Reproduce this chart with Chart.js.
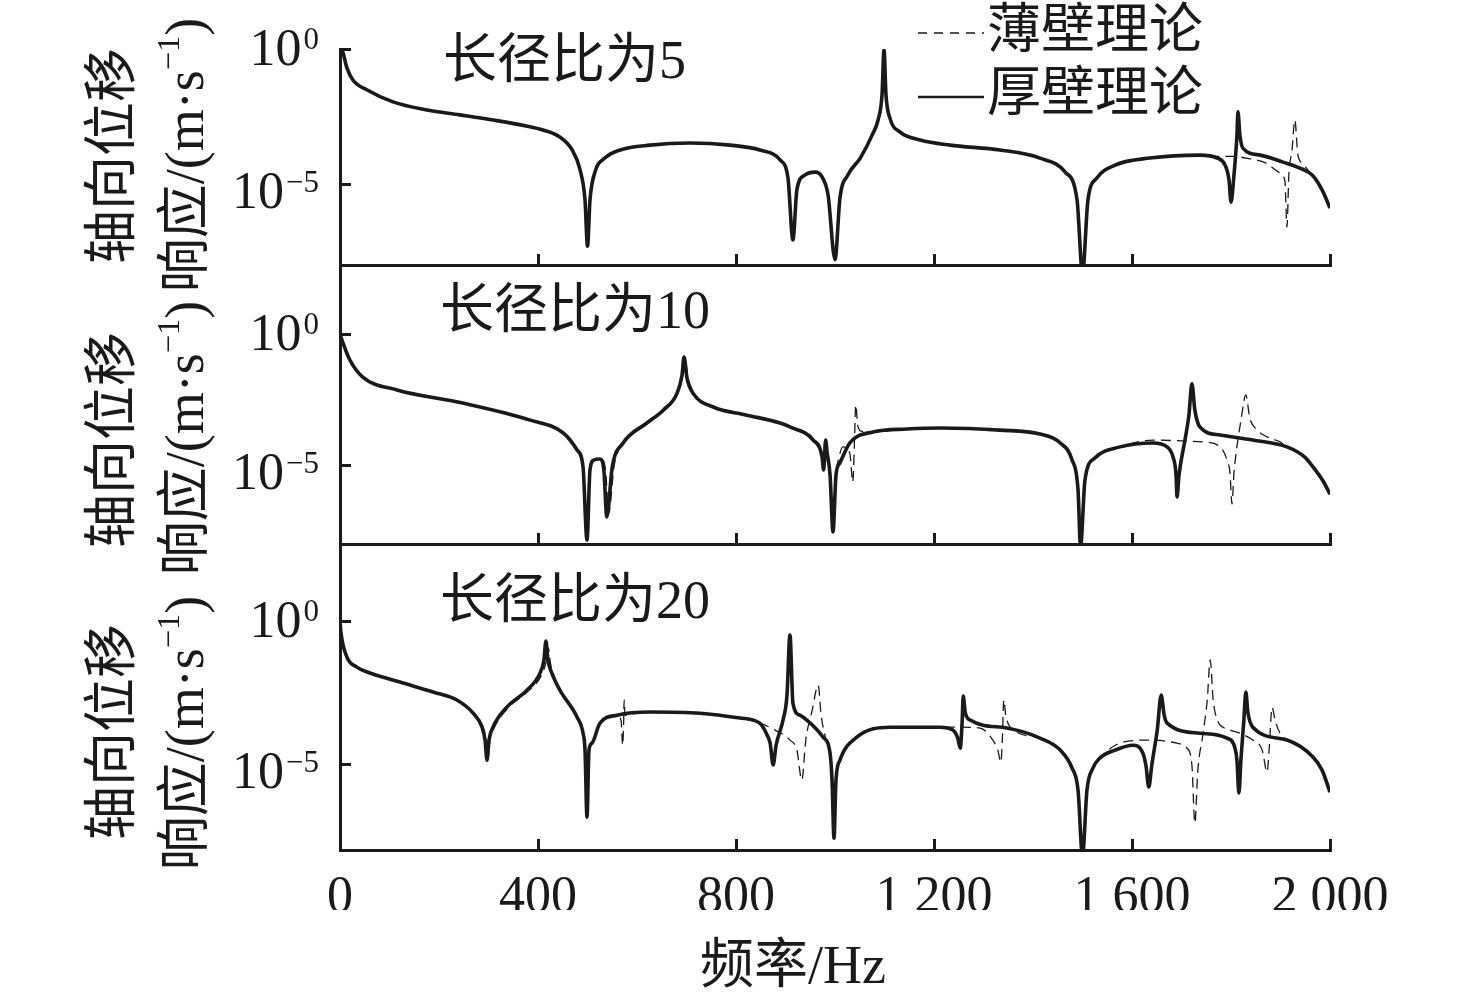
<!DOCTYPE html>
<html>
<head>
<meta charset="utf-8">
<script src="https://cdn.jsdelivr.net/npm/chart.js@4.4.1/dist/chart.umd.min.js"></script>
<style>
  html,body{margin:0;padding:0;background:#fff;}
  #wrap{position:relative;width:1476px;height:1003px;overflow:hidden;background:#fff;}
  #wrap canvas{position:absolute;left:0;top:0;}
  .t{position:absolute;font-family:"Liberation Serif","Noto Sans CJK SC",serif;color:#1a1a1a;white-space:nowrap;line-height:1;font-size:54px;}
  .rot{transform:translate(-50%,-50%) rotate(-90deg);}
  .t sup{font-size:0.6em;line-height:0;vertical-align:0.75em;}
</style>
</head>
<body>
<div id="wrap">
  <svg id="leg" width="1476" height="1003" style="position:absolute;left:0;top:0;z-index:5">
    <line x1="918" y1="33" x2="984" y2="33" stroke="#1a1a1a" stroke-width="1.5" stroke-dasharray="9 7"></line>
    <line x1="918" y1="97" x2="984" y2="97" stroke="#1a1a1a" stroke-width="2.6"></line>
  </svg>
  <div class="t" style="left:987px;top:3px;">薄壁理论</div>
  <div class="t" style="left:987px;top:66px;">厚壁理论</div>

  <div class="t" style="left:443px;top:33px;">长径比为5</div>
  <div class="t" style="left:440px;top:283px;">长径比为10</div>
  <div class="t" style="left:440px;top:573px;">长径比为20</div>

  <div class="t rot" style="left:112px;top:156px;">轴向位移</div>
  <div class="t rot" style="left:185px;top:155px;">响应/(m·s<sup>−1</sup>)</div>
  <div class="t rot" style="left:112px;top:440px;">轴向位移</div>
  <div class="t rot" style="left:185px;top:438px;">响应/(m·s<sup>−1</sup>)</div>
  <div class="t rot" style="left:112px;top:732px;">轴向位移</div>
  <div class="t rot" style="left:185px;top:733px;">响应/(m·s<sup>−1</sup>)</div>

  <div class="t" style="left:700px;top:938px;">频率/Hz</div>
</div>
<script>
// ---- data: [frequency Hz, log10(response)] ----
const xTicks = [0, 400, 800, 1200, 1600, 2000];
const yTickExps = [0, -5];

const p5Thick = [[0,0],[4,-0.04],[14,-0.70],[26,-1.15],[55,-1.52],[107,-1.96],[176,-2.26],[242,-2.44],[309,-2.63],[376,-2.85],[410,-3.0],[444,-3.26],[469,-3.74],[485,-4.48],[495,-5.6],[500,-7.3],[505,-5.6],[515,-4.56],[535,-4.04],[566,-3.74],[626,-3.56],[707,-3.48],[788,-3.56],[848,-3.74],[889,-4.11],[905,-4.78],[915,-7.07],[923,-5.22],[939,-4.67],[960,-4.56],[974,-4.74],[986,-5.41],[1000,-7.8],[1010,-5.52],[1026,-4.67],[1051,-4.04],[1075,-3.19],[1087,-2.63],[1095,-1.70],[1099,-0.04],[1103,-1.70],[1111,-2.56],[1131,-3.07],[1172,-3.37],[1232,-3.56],[1333,-3.74],[1414,-4.04],[1465,-4.56],[1489,-5.59],[1500,-8.3],[1511,-5.59],[1529,-4.78],[1566,-4.30],[1636,-4.04],[1737,-3.93],[1772,-4.04],[1788,-4.30],[1796,-4.85],[1800,-5.67],[1806,-4.67],[1812,-3.19],[1814,-2.33],[1818,-3.19],[1824,-3.67],[1859,-3.93],[1905,-4.19],[1939,-4.41],[1964,-4.67],[1984,-5.22],[2000,-5.89]];
const p5Thin = [[0,0],[4,-0.04],[14,-0.70],[26,-1.15],[55,-1.52],[107,-1.96],[176,-2.26],[242,-2.44],[309,-2.63],[376,-2.85],[410,-3.0],[444,-3.26],[469,-3.74],[485,-4.48],[495,-5.6],[500,-7.3],[505,-5.6],[515,-4.56],[535,-4.04],[566,-3.74],[626,-3.56],[707,-3.48],[788,-3.56],[848,-3.74],[889,-4.11],[905,-4.78],[915,-7.07],[923,-5.22],[939,-4.67],[960,-4.56],[974,-4.74],[986,-5.41],[1000,-7.8],[1010,-5.52],[1026,-4.67],[1051,-4.04],[1075,-3.19],[1087,-2.63],[1095,-1.70],[1099,-0.04],[1103,-1.70],[1111,-2.56],[1131,-3.07],[1172,-3.37],[1232,-3.56],[1333,-3.74],[1414,-4.04],[1465,-4.56],[1489,-5.59],[1500,-8.3],[1511,-5.59],[1529,-4.78],[1566,-4.30],[1636,-4.04],[1737,-3.93],[1772,-3.98],[1804,-3.98],[1838,-4.07],[1870,-4.22],[1899,-4.59],[1909,-4.9],[1913,-6.6],[1917,-4.6],[1923,-3.8],[1929,-2.63],[1935,-3.9],[1945,-4.25],[1964,-4.67],[1984,-5.22],[2000,-5.89]];

const p10Thick = [[0,0],[4,-0.23],[20,-0.99],[46,-1.64],[115,-2.13],[248,-2.63],[384,-3.28],[451,-3.77],[479,-4.42],[491,-5.07],[499,-7.85],[505,-5.18],[513,-4.80],[525,-4.76],[533,-5.18],[539,-6.97],[550,-5.07],[572,-4.15],[620,-3.39],[653,-2.90],[681,-2.25],[691,-1.56],[695,-0.88],[701,-1.68],[713,-2.25],[754,-2.78],[822,-3.09],[889,-3.39],[909,-3.54],[956,-4.04],[974,-4.69],[977,-5.18],[981,-4.04],[984,-4.50],[990,-5.37],[996,-7.54],[1002,-5.37],[1010,-4.91],[1030,-4.15],[1077,-3.73],[1145,-3.62],[1212,-3.58],[1333,-3.66],[1414,-3.81],[1455,-4.15],[1479,-4.80],[1491,-5.94],[1496,-8.1],[1505,-5.56],[1525,-4.72],[1576,-4.30],[1642,-4.15],[1671,-4.30],[1683,-4.69],[1689,-5.37],[1691,-6.21],[1695,-5.37],[1707,-4.04],[1715,-3.09],[1721,-1.90],[1727,-2.90],[1737,-3.54],[1778,-3.85],[1844,-4.04],[1913,-4.30],[1949,-4.69],[1966,-5.07],[1986,-5.60],[2000,-6.10]];
const p10Thin = [[0,0],[4,-0.23],[20,-0.99],[46,-1.64],[115,-2.13],[248,-2.63],[384,-3.28],[451,-3.77],[479,-4.42],[491,-5.07],[499,-7.85],[505,-5.18],[514,-4.78],[527,-4.76],[536,-5.1],[543,-6.8],[554,-5.0],[575,-4.12],[622,-3.37],[655,-2.88],[683,-2.22],[693,-1.5],[697,-0.95],[703,-1.65],[715,-2.25],[754,-2.78],[822,-3.09],[889,-3.39],[909,-3.54],[956,-4.04],[980,-4.8],[990,-5.37],[996,-7.54],[1002,-5.37],[1008,-4.7],[1016,-4.30],[1030,-4.55],[1036,-5.64],[1039,-4.3],[1042,-2.70],[1046,-3.5],[1053,-3.70],[1077,-3.73],[1145,-3.62],[1212,-3.58],[1333,-3.66],[1414,-3.81],[1455,-4.15],[1479,-4.80],[1491,-5.94],[1496,-8.1],[1505,-5.56],[1525,-4.72],[1576,-4.30],[1642,-4.04],[1711,-4.08],[1743,-4.11],[1778,-4.30],[1792,-4.80],[1798,-5.3],[1802,-6.48],[1806,-5.3],[1812,-4.3],[1820,-3.3],[1830,-2.32],[1838,-3.2],[1853,-3.66],[1873,-3.92],[1899,-4.11],[1913,-4.30],[1949,-4.69],[1966,-5.07],[1986,-5.60],[2000,-6.10]];

const p20Thick = [[0,0],[2,-0.42],[14,-1.26],[34,-1.61],[55,-1.78],[121,-2.13],[188,-2.48],[236,-2.76],[269,-3.22],[287,-3.71],[293,-4.16],[297,-4.86],[301,-4.16],[309,-3.71],[337,-3.01],[378,-2.41],[404,-1.82],[412,-1.36],[416,-0.70],[420,-1.36],[428,-1.82],[444,-2.41],[479,-3.36],[491,-3.92],[495,-4.51],[499,-6.85],[503,-4.51],[509,-4.27],[525,-3.57],[560,-3.29],[626,-3.18],[727,-3.22],[808,-3.39],[848,-3.57],[863,-3.99],[869,-4.27],[875,-5.03],[881,-4.34],[895,-3.46],[903,-2.59],[909,-0.49],[915,-2.87],[929,-3.29],[943,-3.46],[976,-4.06],[990,-4.62],[994,-5.56],[998,-7.59],[1002,-5.56],[1010,-4.86],[1044,-4.06],[1111,-3.71],[1212,-3.71],[1238,-3.81],[1248,-4.09],[1253,-4.44],[1257,-3.46],[1259,-2.62],[1263,-3.18],[1273,-3.46],[1347,-3.74],[1414,-4.09],[1455,-4.51],[1479,-5.14],[1491,-5.91],[1500,-8.2],[1509,-5.91],[1521,-5.14],[1535,-4.79],[1566,-4.51],[1602,-4.34],[1622,-4.62],[1628,-5.03],[1634,-5.80],[1640,-5.03],[1651,-3.81],[1659,-2.59],[1665,-3.29],[1671,-3.57],[1737,-3.92],[1792,-4.09],[1808,-4.44],[1812,-4.86],[1816,-6.01],[1820,-4.86],[1826,-3.46],[1830,-2.48],[1834,-3.18],[1844,-3.71],[1913,-4.16],[1966,-4.76],[1984,-5.21],[2000,-5.98]];
const p20Thin = [[0,0],[2,-0.42],[14,-1.26],[34,-1.61],[55,-1.78],[121,-2.13],[188,-2.48],[236,-2.76],[269,-3.22],[289,-3.71],[295,-4.16],[299,-4.8],[303,-4.16],[311,-3.75],[339,-3.05],[380,-2.45],[407,-1.9],[416,-1.45],[421,-0.95],[425,-1.45],[432,-1.9],[447,-2.45],[479,-3.36],[491,-3.92],[495,-4.51],[499,-6.85],[503,-4.51],[509,-4.27],[525,-3.57],[560,-3.29],[568,-3.5],[571,-4.34],[573,-3.6],[574,-2.76],[576,-3.3],[590,-3.25],[626,-3.18],[727,-3.22],[808,-3.39],[848,-3.57],[879,-3.81],[909,-4.16],[923,-4.51],[933,-5.56],[941,-4.16],[954,-3.11],[966,-2.24],[972,-3.29],[982,-4.16],[990,-4.62],[994,-5.56],[998,-7.59],[1002,-5.56],[1010,-4.86],[1044,-4.06],[1111,-3.71],[1212,-3.71],[1253,-3.71],[1293,-3.74],[1319,-4.16],[1329,-4.51],[1335,-4.93],[1338,-4.16],[1341,-2.76],[1345,-3.29],[1354,-3.71],[1414,-4.09],[1455,-4.51],[1479,-5.14],[1491,-5.91],[1500,-8.2],[1509,-5.91],[1521,-5.14],[1535,-4.79],[1582,-4.23],[1636,-4.16],[1691,-4.27],[1711,-4.44],[1721,-5.03],[1727,-7.06],[1733,-5.21],[1743,-3.99],[1752,-2.76],[1758,-1.36],[1764,-2.76],[1774,-3.53],[1784,-3.71],[1818,-3.92],[1844,-4.16],[1863,-4.51],[1873,-5.28],[1877,-4.5],[1883,-3.01],[1889,-3.46],[1899,-3.92],[1925,-4.23],[1966,-4.76],[1984,-5.21],[2000,-5.98]];

// ---- layout (not data) ----
const W = 1476, H = 1003, INK = '#1a1a1a';
const PLOT_LEFT = 340, PLOT_RIGHT = 1330, XAXIS_H = 60;
const panels = [
  {thick: p5Thick,  thin: p5Thin,  top: 49,  bottom: 265, maxExp: 0,    showX: false},
  {thick: p10Thick, thin: p10Thin, top: 265, bottom: 544, maxExp: 2.63, showX: false},
  {thick: p20Thick, thin: p20Thin, top: 544, bottom: 850, maxExp: 2.69, showX: true}
];

function toPts(arr){ return arr.map(p => ({x: p[0], y: Math.pow(10, p[1])})); }
function fmtX(v){ const s = String(v); return v >= 1000 ? s.slice(0, s.length-3) + ' ' + s.slice(-3) : s; }

const supTicks = {
  id: 'supTicks',
  afterDraw(chart){
    const y = chart.scales.y, ctx = chart.ctx;
    ctx.save();
    ctx.fillStyle = INK;
    ctx.textBaseline = 'alphabetic';
    ctx.textAlign = 'right';
    yTickExps.forEach(ex => {
      const py = y.getPixelForValue(Math.pow(10, ex));
      const base = py + (ex === 0 ? 16 : 24);
      const sup = ex === 0 ? '0' : '\u2212' + Math.abs(ex);
      ctx.font = '31px "Liberation Serif"';
      const sw = ctx.measureText(sup).width;
      const right = 319;
      ctx.fillText(sup, right, base - 16);
      ctx.font = '52px "Liberation Serif"';
      ctx.fillText('10', right - sw - 2, base);
    });
    ctx.restore();
  }
};

const wrap = document.getElementById('wrap');
panels.forEach((p) => {
  const cv = document.createElement('canvas');
  cv.width = W; cv.height = H;
  wrap.insertBefore(cv, wrap.firstChild);
  const gridOpts = {display: true, drawOnChartArea: false, drawTicks: true, tickLength: -11, tickWidth: 3, tickColor: INK, color: INK};
  new Chart(cv.getContext('2d'), {
    type: 'line',
    data: {
      datasets: [
        {label: '薄壁理论', data: toPts(p.thin), borderColor: INK, borderWidth: 1.3, borderDash: [10, 6],
         pointRadius: 0, cubicInterpolationMode: 'monotone', fill: false},
        {label: '厚壁理论', data: toPts(p.thick), borderColor: INK, borderWidth: 3.6,
         pointRadius: 0, cubicInterpolationMode: 'monotone', fill: false}
      ]
    },
    options: {
      responsive: false, animation: false, events: [],
      layout: {padding: {left: 0, right: W - PLOT_RIGHT, top: p.top, bottom: H - p.bottom - XAXIS_H}},
      plugins: {legend: {display: false}, tooltip: {enabled: false}, title: {display: false}},
      scales: {
        x: {
          type: 'linear', min: 0, max: 2000,
          afterFit(s){ s.height = XAXIS_H; },
          afterBuildTicks(s){ s.ticks = xTicks.map(v => ({value: v})); },
          grid: gridOpts,
          border: {display: true, width: 3, color: INK},
          ticks: {display: p.showX, autoSkip: false, maxRotation: 0, padding: 28, color: INK,
                  font: {family: '"Liberation Serif"', size: 52}, callback: (v) => fmtX(v)}
        },
        y: {
          type: 'logarithmic', min: 1e-8, max: Math.pow(10, p.maxExp),
          afterFit(s){ s.width = PLOT_LEFT; },
          afterBuildTicks(s){ s.ticks = yTickExps.map(e => ({value: Math.pow(10, e)})); },
          grid: gridOpts,
          border: {display: true, width: 3, color: INK},
          ticks: {display: false}
        }
      }
    },
    plugins: [supTicks]
  });
});
</script>
</body>
</html>
